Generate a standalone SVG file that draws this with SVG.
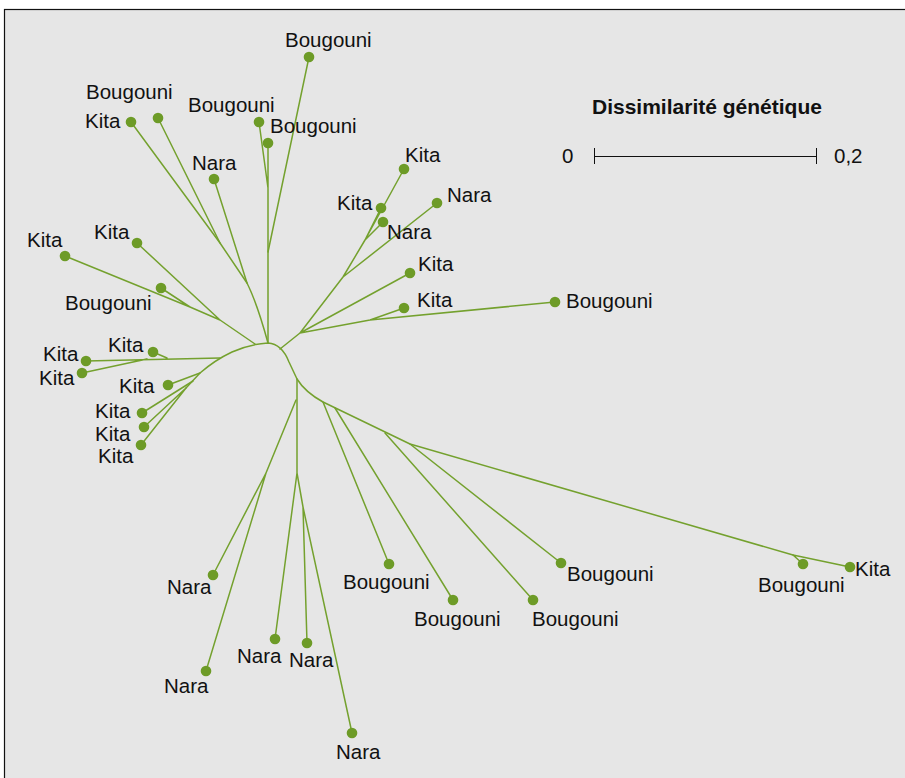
<svg xmlns="http://www.w3.org/2000/svg" width="905" height="778" viewBox="0 0 905 778">
<style>
.e{fill:none;stroke:#74a12e;stroke-width:1.5;stroke-linecap:round;stroke-linejoin:round}
.d{fill:#6d9b27}
.t{font-family:"Liberation Sans",Arial,Helvetica,sans-serif;font-size:20.5px;fill:#111}
.h{font-family:"Liberation Sans",Arial,Helvetica,sans-serif;font-size:21px;font-weight:bold;fill:#111}
.s{fill:none;stroke:#111;stroke-width:1}
</style>
<rect x="0" y="0" width="905" height="778" fill="#ffffff"/>
<rect x="4.5" y="9.5" width="910" height="780" fill="#e6e6e6" stroke="#111" stroke-width="1.2"/>
<g id="connectors">
<path class="e" d="M186,388 L200,373 Q215,360 232,352 Q250,344 268,343 Q282,344 289,362 L297,379 Q305,392 323,402 L410,444 L793,555"/>
<path class="e" d="M131,122 L220,243 L247,283 Q257,303 268,343"/>
<path class="e" d="M158,118 L220,243"/>
<path class="e" d="M214,179 L247,283"/>
<path class="e" d="M259,122 L268,188 M268,143 L268,188 L268,343"/>
<path class="e" d="M309,57 L268,252"/>
<path class="e" d="M65,256 L190,307 L220,320 L255,344 M161,288 L190,307 M137,243 L220,320"/>
<path class="e" d="M280,349 L300,333 L343,277 L365,240 L404,169 M365,240 L381,208 M365,240 L383,222 M343,277 L437,203 M300,333 L410,273 M300,333 L370,320 L404,308 M370,320 L555,302"/>
<path class="e" d="M86,361 L220,358 M82,373 L147,359 M153,352 L167,358"/>
<path class="e" d="M200,373 L168,385 M193,381 L142,413 M186,388 L144,427 M186,388 L141,445"/>
<path class="e" d="M297,379 L297,473 L275,639 M297,473 L303,507 L307,643 M303,507 L352,733"/>
<path class="e" d="M296,400 L266,473 L213,575 M266,473 L206,671"/>
<path class="e" d="M323,402 L389,564 M335,408 L453,600 M385,433 L533,600 M410,444 L561,563"/>
<path class="e" d="M793,555 L803,564 M793,555 L850,567"/>
</g>
<g id="n1"><circle class="d" cx="309" cy="57" r="5.3"/><text class="t" x="285" y="47">Bougouni</text></g>
<g id="n2"><circle class="d" cx="158" cy="118" r="5.3"/><text class="t" x="86" y="99">Bougouni</text></g>
<g id="n3"><circle class="d" cx="131" cy="122" r="5.3"/><text class="t" x="85" y="128">Kita</text></g>
<g id="n4"><circle class="d" cx="259" cy="122" r="5.3"/><text class="t" x="188" y="112">Bougouni</text></g>
<g id="n5"><circle class="d" cx="268" cy="143" r="5.3"/><text class="t" x="270" y="133">Bougouni</text></g>
<g id="n6"><circle class="d" cx="214" cy="179" r="5.3"/><text class="t" x="192" y="170">Nara</text></g>
<g id="n7"><circle class="d" cx="137" cy="243" r="5.3"/><text class="t" x="94" y="239">Kita</text></g>
<g id="n8"><circle class="d" cx="65" cy="256" r="5.3"/><text class="t" x="27" y="247">Kita</text></g>
<g id="n9"><circle class="d" cx="161" cy="288" r="5.3"/><text class="t" x="65" y="310">Bougouni</text></g>
<g id="n10"><circle class="d" cx="404" cy="169" r="5.3"/><text class="t" x="405" y="162">Kita</text></g>
<g id="n11"><circle class="d" cx="381" cy="208" r="5.3"/><text class="t" x="337" y="210">Kita</text></g>
<g id="n12"><circle class="d" cx="437" cy="203" r="5.3"/><text class="t" x="447" y="202">Nara</text></g>
<g id="n13"><circle class="d" cx="383" cy="222" r="5.3"/><text class="t" x="387" y="239">Nara</text></g>
<g id="n14"><circle class="d" cx="410" cy="273" r="5.3"/><text class="t" x="418" y="271">Kita</text></g>
<g id="n15"><circle class="d" cx="404" cy="308" r="5.3"/><text class="t" x="417" y="307">Kita</text></g>
<g id="n16"><circle class="d" cx="555" cy="302" r="5.3"/><text class="t" x="566" y="308">Bougouni</text></g>
<g id="n17"><circle class="d" cx="86" cy="361" r="5.3"/><text class="t" x="43" y="361">Kita</text></g>
<g id="n18"><circle class="d" cx="153" cy="352" r="5.3"/><text class="t" x="108" y="352">Kita</text></g>
<g id="n19"><circle class="d" cx="82" cy="373" r="5.3"/><text class="t" x="39" y="385">Kita</text></g>
<g id="n20"><circle class="d" cx="168" cy="385" r="5.3"/><text class="t" x="119" y="393">Kita</text></g>
<g id="n21"><circle class="d" cx="142" cy="413" r="5.3"/><text class="t" x="95" y="418">Kita</text></g>
<g id="n22"><circle class="d" cx="144" cy="427" r="5.3"/><text class="t" x="95" y="441">Kita</text></g>
<g id="n23"><circle class="d" cx="141" cy="445" r="5.3"/><text class="t" x="98" y="463">Kita</text></g>
<g id="n24"><circle class="d" cx="213" cy="575" r="5.3"/><text class="t" x="167" y="594">Nara</text></g>
<g id="n25"><circle class="d" cx="206" cy="671" r="5.3"/><text class="t" x="164" y="693">Nara</text></g>
<g id="n26"><circle class="d" cx="275" cy="639" r="5.3"/><text class="t" x="237" y="663">Nara</text></g>
<g id="n27"><circle class="d" cx="307" cy="643" r="5.3"/><text class="t" x="289" y="667">Nara</text></g>
<g id="n28"><circle class="d" cx="352" cy="733" r="5.3"/><text class="t" x="336" y="759">Nara</text></g>
<g id="n29"><circle class="d" cx="389" cy="564" r="5.3"/><text class="t" x="343" y="589">Bougouni</text></g>
<g id="n30"><circle class="d" cx="453" cy="600" r="5.3"/><text class="t" x="414" y="626">Bougouni</text></g>
<g id="n31"><circle class="d" cx="533" cy="600" r="5.3"/><text class="t" x="532" y="626">Bougouni</text></g>
<g id="n32"><circle class="d" cx="561" cy="563" r="5.3"/><text class="t" x="567" y="581">Bougouni</text></g>
<g id="n33"><circle class="d" cx="803" cy="564" r="5.3"/><text class="t" x="758" y="592">Bougouni</text></g>
<g id="n34"><circle class="d" cx="850" cy="567" r="5.3"/><text class="t" x="855" y="576">Kita</text></g>
<g id="scale">
<text class="h" x="592" y="114">Dissimilarité génétique</text>
<path class="s" d="M594.5,156.5 L816.5,156.5 M594.5,148 L594.5,164 M816.5,148 L816.5,164"/>
<text class="t" x="562" y="163">0</text>
<text class="t" x="834" y="163">0,2</text>
</g>
</svg>
